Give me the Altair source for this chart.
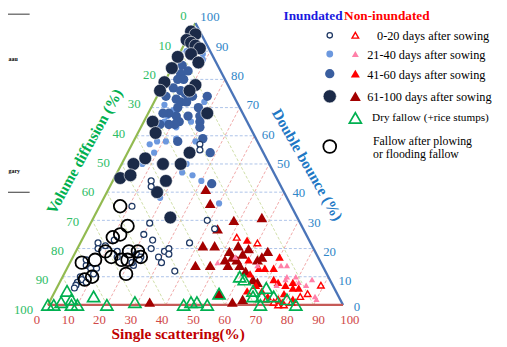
import altair as alt
import pandas as pd

# ---------------- data: (single scattering %, double bounce %) ; volume diffusion = 100 - SS - DB
TICKS = [0, 10, 20, 30, 40, 50, 60, 70, 80, 90, 100]
GRID = [10, 20, 30, 40, 50, 60, 70, 80, 90]

inund_0_20 = [(23, 57), (24, 55), (13, 44), (14, 42), (11, 35), (39, 30), (43, 27), (37, 22), (30, 19),
              (31, 20), (32, 18), (29, 17), (31, 15), (37, 12), (20, 29), (20, 25), (24, 23), (25, 20),
              (6, 22), (7, 20), (11, 23), (14, 19), (22, 14), (21, 15), (6, 14), (5, 16), (8, 13),
              (6, 10), (7, 9), (6, 8), (6, 7), (6, 6), (9, 8), (15, 17), (21, 18), (23, 17), (23, 16),
              (9, 21), (10, 13), (10, 11)]
inund_21_40 = [(2, 90), (8, 89), (9, 87), (4, 71), (17, 72), (8, 69), (16, 65), (7, 65), (7, 67),
               (12, 63), (11, 58), (21, 58), (7, 50), (22, 50), (26, 46), (30, 44), (40, 36), (19, 38),
               (22, 47), (9, 54), (14, 59), (8, 58), (6, 57), (6, 52)]
inund_41_60 = [(3, 85), (4, 82), (6, 83), (4, 80), (6, 80), (4, 77), (7, 76), (9, 75), (17, 74), (3, 74),
               (7, 73), (9, 72), (12, 74), (9, 70), (11, 72), (16, 70), (7, 68), (5, 68), (10, 67),
               (14, 67), (18, 67), (12, 65), (11, 64), (6, 64), (9, 64), (19, 65), (20, 63), (15, 58),
               (23, 59), (28, 54), (34, 43)]
inund_61_100 = [(0, 97), (2, 96), (0, 94), (2, 93), (4, 92), (6, 91), (4, 89), (8, 86), (0, 88), (0, 84),
                (0, 79), (0, 76), (11, 78), (10, 76), (20, 68), (3, 65), (6, 61), (21, 54), (7, 52),
                (4, 50), (14, 50), (20, 50), (2, 45), (5, 46), (18, 44), (17, 40), (26, 31)]
non_0_20 = [(52, 24), (60, 22), (89, 7), (84, 3), (77, 2), (82, 1), (73, 2), (78, 0), (80, 0), (76, 1), (86, 4)]
non_21_40 = [(64, 14), (74, 14), (79, 10), (76, 9), (90, 2), (74, 7), (81, 8), (72, 14), (76, 10),
             (85, 9), (84, 7), (55, 17), (50, 15), (89, 3)]
non_41_60 = [(56, 23), (70, 17), (60, 16), (70, 13), (67, 13), (77, 7), (74, 8), (79, 8), (67, 7), (70, 5),
             (65, 5), (73, 3), (78, 4), (80, 6), (76, 1), (79, 1), (82, 2), (82, 6), (72, 9), (65, 13), (63, 11)]
non_61_100 = [(34, 1), (33, 41), (37, 36), (48, 30), (57, 31), (44, 27), (42, 21), (46, 21), (52, 19),
              (54, 21), (57, 18), (58, 20), (64, 17), (65, 19), (54, 17), (43, 14), (48, 14), (54, 14),
              (58, 14), (65, 9), (62, 1), (65, 2), (56, 4), (63, 16), (56, 16), (61, 12), (67, 8), (52, 16)]
dry_fallow = [(0, 0), (2, 0), (4, 1), (4, 5), (7, 2), (8, 0), (10, 0), (14, 3), (20, 0), (29, 1), (46, 0),
              (48, 1), (50, 1), (54, 0), (56, 4), (60, 10), (62, 9), (67, 5), (68, 3), (71, 3), (72, 0),
              (71, 6), (75, 3), (80, 2), (84, 0)]
fallow_plow = [(7, 35), (13, 28), (12, 25), (10, 24), (10, 19), (18, 19), (21, 19), (13, 17), (17, 16),
               (19, 16), (23, 17), (8, 16), (4, 15), (21, 11), (10, 10), (8, 9)]

LEG_ROWS = ["0-20 days after sowing", "21-40 days after sowing", "41-60 days after sowing",
            "61-100 days after sowing"]
LEG_DRY = "Dry fallow (+rice stumps)"
LEG_FALLOW = ["Fallow after plowing", "or flooding fallow"]
FRAG_TEXT = ["aau", "gary"]

# ---------------- geometry (plot area starts at page pixel 8,8)
W, H = 499, 339
XT_DOM = [-13.5, -13.5 + W / 3.0]
DB_HI = 299.0 / 2.865
DB_DOM = [DB_HI - H / 2.865, DB_HI]
xs = alt.Scale(domain=XT_DOM, nice=False, zero=False)
ys = alt.Scale(domain=DB_DOM, nice=False, zero=False)
X = alt.X("x:Q", scale=xs, axis=None)
Y = alt.Y("y:Q", scale=ys, axis=None)


def px2xt(px):
    return (px - 48.5) / 3.0


def py2db(py):
    return (307.0 - py) / 2.865


def tern(lst):
    return pd.DataFrame({"x": [s + d / 2.0 for s, d in lst], "y": [d for s, d in lst]})


def pts(df, shape, size, fill=None, stroke=None, sw=0.0):
    kw = dict(shape=shape, size=size, opacity=1)
    if fill is not None:
        kw.update(filled=True, fill=fill)
    else:
        kw.update(filled=False, fill="transparent")
    if stroke is not None:
        kw.update(stroke=stroke, strokeWidth=sw)
    else:
        kw.update(strokeWidth=0)
    return alt.Chart(df).mark_point(**kw).encode(x=X, y=Y)


def rules(df, color, width, dash=None):
    kw = dict(color=color, strokeWidth=width)
    if dash:
        kw["strokeDash"] = dash
    return alt.Chart(df).mark_rule(**kw).encode(x=X, y=Y, x2="x2:Q", y2="y2:Q")


# grid lines
g_db = pd.DataFrame({"x": [t / 2 for t in GRID], "y": GRID, "x2": [100 - t / 2 for t in GRID], "y2": GRID})
g_ss = pd.DataFrame({"x": GRID, "y": [0] * 9, "x2": [50 + t / 2 for t in GRID], "y2": [100 - t for t in GRID]})
g_vd = pd.DataFrame({"x": [100 - t for t in GRID], "y": [0] * 9, "x2": [(100 - t) / 2 for t in GRID],
                     "y2": [100 - t for t in GRID]})
DASH = [3, 2]
layers = [
    rules(g_db, "#A3BCE6", 0.9, DASH),
    rules(g_ss, "#EE9E9E", 0.9, DASH),
    rules(g_vd, "#CADB9E", 0.9, DASH),
    rules(pd.DataFrame({"x": [0], "y": [0], "x2": [50], "y2": [100]}), "#92BA50", 2.2),
    rules(pd.DataFrame({"x": [50], "y": [100], "x2": [100], "y2": [0]}), "#4A74B8", 2.4),
    rules(pd.DataFrame({"x": [0], "y": [0], "x2": [100], "y2": [0]}), "#C65A57", 2.4),
]

# tick labels
K = 1.04
CX, CY = 50.0, 100.0 / 3


def expand(xt, db):
    return CX + K * (xt - CX), CY + K * (db - CY)


vd_pos = [expand((100 - v) / 2, 100 - v) for v in TICKS]
db_pos = [expand(100 - d / 2, d) for d in TICKS]
vd_lab = pd.DataFrame({"x": [p[0] for p in vd_pos], "y": [p[1] for p in vd_pos], "t": [str(v) for v in TICKS]})
db_lab = pd.DataFrame({"x": [p[0] for p in db_pos], "y": [p[1] if d > 0 else 0.0 for p, d in zip(db_pos, TICKS)],
                       "t": [str(v) for v in TICKS]})
ss_lab = pd.DataFrame({"x": [49.3 + 1.06 * (s - 50) for s in TICKS], "y": [-5.2] * 11, "t": [str(v) for v in TICKS]})
FONT = "Liberation Serif"
layers += [
    alt.Chart(vd_lab).mark_text(align="right", baseline="middle", dx=-9, dy=1, font=FONT, fontSize=13,
                                color="#2DBD66").encode(x=X, y=Y, text="t:N"),
    alt.Chart(db_lab).mark_text(align="left", baseline="middle", dx=5, dy=2, font=FONT, fontSize=13,
                                color="#2F86C8").encode(x=X, y=Y, text="t:N"),
    alt.Chart(ss_lab).mark_text(align="center", baseline="middle", font=FONT, fontSize=13,
                                color="#D04848").encode(x=X, y=Y, text="t:N"),
]

# axis titles
layers += [
    alt.Chart(pd.DataFrame({"x": [25], "y": [50], "t": ["Volume diffusion (%)"]})).mark_text(
        align="center", baseline="middle", angle=299, dx=-7, dy=-39, font=FONT, fontSize=15.5,
        fontWeight="bold", color="#00B050").encode(x=X, y=Y, text="t:N"),
    alt.Chart(pd.DataFrame({"x": [75], "y": [50], "t": ["Double bounce (%)"]})).mark_text(
        align="center", baseline="middle", angle=60, dx=20, dy=-33, font=FONT, fontSize=15.5,
        fontWeight="bold", color="#2077C4").encode(x=X, y=Y, text="t:N"),
    alt.Chart(pd.DataFrame({"x": [px2xt(181)], "y": [py2db(337)], "t": ["Single scattering(%)"]})).mark_text(
        align="center", baseline="middle", font=FONT, fontSize=15.5, fontWeight="bold",
        color="#C00000").encode(x=X, y=Y, text="t:N"),
]

# styles
ST = {
    "n4": dict(shape="triangle-up", fill="#A30000"),
    "n3": dict(shape="triangle-up", fill="#FF0000"),
    "n2": dict(shape="triangle-up", fill="#FF80A8"),
    "n1": dict(shape="triangle-up", fill="white", stroke="#FF0000", sw=1.4),
    "dry": dict(shape="triangle-up", stroke="#00B050", sw=1.7),
    "i2": dict(shape="circle", fill="#6C98DE"),
    "i3": dict(shape="circle", fill="#3A5E9F"),
    "i4": dict(shape="circle", fill="#1B2A48", stroke="white", sw=0.6),
    "i1": dict(shape="circle", fill="white", stroke="#1F3864", sw=1.3),
    "plow": dict(shape="circle", stroke="#000000", sw=1.8),
}
SZ = {"n4": 120, "n3": 75, "n2": 40, "n1": 45, "dry": 150, "i2": 40, "i3": 90, "i4": 170, "i1": 36, "plow": 165}
DATA = {"n4": non_61_100, "n3": non_41_60, "n2": non_21_40, "n1": non_0_20, "dry": dry_fallow,
        "i2": inund_21_40, "i3": inund_41_60, "i4": inund_61_100, "i1": inund_0_20, "plow": fallow_plow}
for k in ["n4", "n3", "n2", "n1", "dry", "i2", "i3", "i4", "i1", "plow"]:
    layers.append(pts(tern(DATA[k]), size=SZ[k], **ST[k]))


# legend (page-pixel layout converted into the chart's data units)
def at(px, py):
    return pd.DataFrame({"x": [px2xt(px)], "y": [py2db(py)]})


row_y = [33, 52, 72, 95]
leg_sym = [("i1", 335, 30), ("i2", 335, 48), ("i3", 335, 90), ("i4", 335, 180)]
leg_tri = [("n1", 361, 45), ("n2", 361, 50), ("n3", 361, 85), ("n4", 361, 125)]
for (k, px, s), py in zip(leg_sym, row_y):
    layers.append(pts(at(px, py), size=s, **ST[k]))
for (k, px, s), py in zip(leg_tri, row_y):
    layers.append(pts(at(px, py), size=s, **ST[k]))
layers.append(pts(at(361, 117), size=150, **ST["dry"]))
layers.append(pts(at(335, 146), size=170, **ST["plow"]))

row_tx = [383, 373, 373, 373]
leg_txt = pd.DataFrame({"x": [px2xt(v) for v in row_tx], "y": [py2db(v + 1) for v in row_y], "t": LEG_ROWS})
layers.append(alt.Chart(leg_txt).mark_text(align="left", baseline="middle", font=FONT, fontSize=12.5,
                                           color="black").encode(x=X, y=Y, text="t:N"))
dry_txt = pd.DataFrame({"x": [px2xt(378)], "y": [py2db(117)], "t": [LEG_DRY]})
layers.append(alt.Chart(dry_txt).mark_text(align="left", baseline="middle", font=FONT, fontSize=11.4,
                                           color="black").encode(x=X, y=Y, text="t:N"))
fal_txt = pd.DataFrame({"x": [px2xt(379)] * 2, "y": [py2db(140), py2db(154)], "t": LEG_FALLOW})
layers.append(alt.Chart(fal_txt).mark_text(align="left", baseline="middle", font=FONT, fontSize=12,
                                           color="black").encode(x=X, y=Y, text="t:N"))
hdr = pd.DataFrame({"x": [px2xt(318), px2xt(393)], "y": [py2db(13)] * 2,
                    "t": ["Inundated", "Non-inundated"], "c": ["#1A1AE0", "#FF0000"]})
layers.append(alt.Chart(hdr).mark_text(align="center", baseline="middle", font=FONT, fontSize=13.5,
                                       fontWeight="bold").encode(
    x=X, y=Y, text="t:N", color=alt.Color("c:N", scale=None)))

# cropped fragments at the left border of the original figure
frag = pd.DataFrame({"x": [px2xt(8)] * 2, "y": [py2db(11.5), py2db(192.5)],
                     "x2": [px2xt(30)] * 2, "y2": [py2db(11.5), py2db(192.5)]})
layers.append(rules(frag, "#333333", 1.0))
frag_t = pd.DataFrame({"x": [px2xt(8.5)] * 2, "y": [py2db(57), py2db(171)], "t": FRAG_TEXT})
layers.append(alt.Chart(frag_t).mark_text(align="left", baseline="middle", font=FONT, fontSize=6,
                                          fontWeight="bold", color="black").encode(x=X, y=Y, text="t:N"))

chart = alt.layer(*layers).properties(
    width=W, height=H, padding=0, autosize=alt.AutoSizeParams(type="none"),
    background="white",
).configure_view(stroke=None)

chart.save("out.html", embed_options={"renderer": "svg", "actions": False})
